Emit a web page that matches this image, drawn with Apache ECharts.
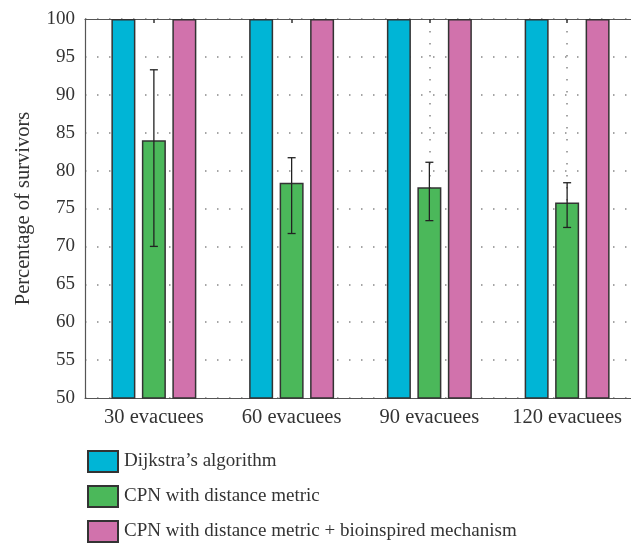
<!DOCTYPE html>
<html>
<head>
<meta charset="utf-8">
<script src="https://cdn.jsdelivr.net/npm/echarts@6/dist/echarts.min.js"></script>
<style>
  html, body { margin: 0; padding: 0; background: #fff; overflow: hidden; }
  #chart { width: 641px; height: 546px; }
</style>
</head>
<body>
<div id="chart"></div>
<script>
  // data
  var categories = ['30 evacuees', '60 evacuees', '90 evacuees', '120 evacuees'];
  var dijkstra = [100, 100, 100, 100];
  var cpnDistance = [84.0, 78.4, 77.8, 75.8];
  var cpnErrLow = [70.0, 71.7, 73.4, 72.5];
  var cpnErrHigh = [93.3, 81.7, 81.1, 78.4];
  var bioinspired = [100, 100, 100, 100];
  var yMin = 50, yMax = 100, yStep = 5;

  var serif = 'Liberation Serif';
  var txt = '#333';

  var errData = categories.map(function (c, i) { return [i, cpnErrLow[i], cpnErrHigh[i]]; });

  // the plot runs a bit past the right edge of the window, as in the original figure
  var myChart = echarts.init(document.getElementById('chart'));
  var option = {
    animation: false,
    textStyle: { fontFamily: serif },
    grid: { left: 85, top: 19, right: 5, bottom: 148 },
    legend: {
      data: ["Dijkstra’s algorithm", 'CPN with distance metric', 'CPN with distance metric + bioinspired mechanism'],
      orient: 'vertical',
      left: 82, top: 445, height: 120,
      itemWidth: 30, itemHeight: 21, itemGap: 12,
      icon: 'rect',
      textStyle: { fontFamily: serif, fontSize: 19, color: txt, padding: [0, 0, 0, 1] }
    },
    xAxis: [
      {
        type: 'category',
        data: categories,
        axisLine: { lineStyle: { color: '#555', width: 1.2 } },
        axisTick: { show: false },
        axisLabel: { color: txt, fontSize: 20.5, fontFamily: serif, margin: 9, interval: 0 }
      },
      {
        type: 'category',
        position: 'top',
        data: categories,
        axisLine: { show: true, lineStyle: { color: '#555', width: 1.2 } },
        axisLabel: { show: false },
        axisTick: { show: true, inside: true, length: 4, alignWithLabel: true, lineStyle: { color: '#333', width: 1.5 } },
        splitLine: {
          show: true,
          alignWithLabel: true,
          interval: function (i) { return i === 2 || i === 3; },
          lineStyle: { color: '#888', width: 1.5, type: [1.5, 10.5] }
        }
      }
    ],
    yAxis: {
      type: 'value',
      min: yMin, max: yMax, interval: yStep,
      name: 'Percentage of survivors',
      nameLocation: 'middle',
      nameGap: 51,
      nameTextStyle: { fontFamily: serif, fontSize: 20.5, color: txt },
      axisLine: { show: true, lineStyle: { color: '#555', width: 1.2 } },
      axisTick: { show: false },
      axisLabel: { color: txt, fontSize: 19, fontFamily: serif, margin: 10 },
      splitLine: { lineStyle: { color: '#888', width: 1.5, type: [1.5, 10.5], dashOffset: -12 } }
    },
    series: [
      {
        name: "Dijkstra’s algorithm",
        type: 'bar',
        data: dijkstra,
        barWidth: 24,
        barGap: '27%',
        itemStyle: { color: '#00B5D6', borderColor: '#333', borderWidth: 1.5 }
      },
      {
        name: 'CPN with distance metric',
        type: 'bar',
        data: cpnDistance,
        barWidth: 24,
        barGap: '27%',
        itemStyle: { color: '#4BB85A', borderColor: '#333', borderWidth: 1.5 }
      },
      {
        name: 'CPN with distance metric + bioinspired mechanism',
        type: 'bar',
        data: bioinspired,
        barWidth: 24,
        barGap: '27%',
        itemStyle: { color: '#D172AC', borderColor: '#333', borderWidth: 1.5 }
      },
      {
        name: 'error',
        type: 'custom',
        z: 10,
        data: errData,
        renderItem: function (params, api) {
          var lo = api.coord([api.value(0), api.value(1)]);
          var hi = api.coord([api.value(0), api.value(2)]);
          var half = 4;
          var st = { stroke: '#222', lineWidth: 1.3 };
          return {
            type: 'group',
            children: [
              { type: 'line', shape: { x1: lo[0], y1: lo[1], x2: hi[0], y2: hi[1] }, style: st },
              { type: 'line', shape: { x1: lo[0] - half, y1: lo[1], x2: lo[0] + half, y2: lo[1] }, style: st },
              { type: 'line', shape: { x1: hi[0] - half, y1: hi[1], x2: hi[0] + half, y2: hi[1] }, style: st }
            ]
          };
        }
      }
    ]
  };
  myChart.setOption(option);
</script>
</body>
</html>
